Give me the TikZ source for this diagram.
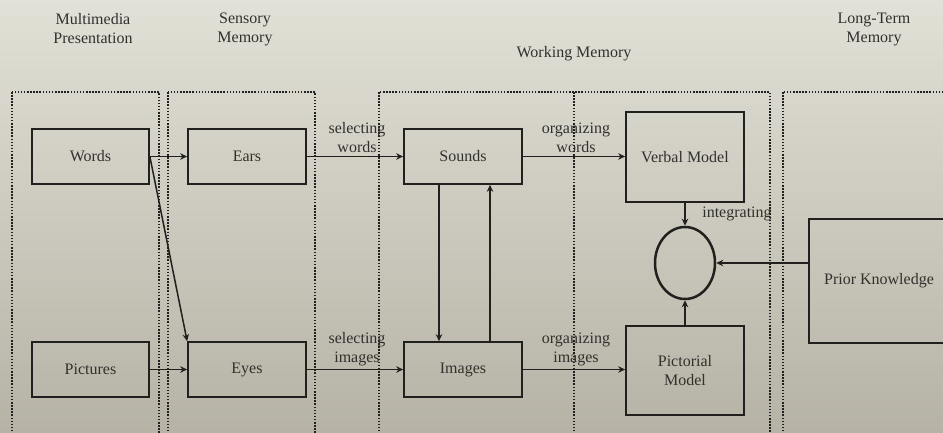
\documentclass[tikz,border=0pt]{standalone}
\usepackage{fontspec}
\setmainfont{Liberation Serif}
\usetikzlibrary{arrows.meta,shapes.geometric}
\definecolor{bgtop}{RGB}{226,225,215}
\definecolor{bgbot}{RGB}{182,178,166}
\definecolor{ink}{RGB}{34,32,30}
\definecolor{txt}{RGB}{50,48,45}
\tikzset{
  lbl/.style={font=\fontsize{16}{19}\selectfont, text=txt, align=center, inner sep=0pt},
  boxnode/.style={draw=ink, line width=1.7pt, rectangle, inner sep=0pt, font=\fontsize{16}{19}\selectfont, text=txt, align=center},
  panel/.style={draw=ink, line width=1.5pt, dash pattern=on 1.5pt off 1.6pt},
  conn/.style={draw=ink, line width=1.5pt, -{Stealth[length=7pt,width=6.5pt]}},
}
\begin{document}
\begin{tikzpicture}[x=1pt,y=-1pt]
\useasboundingbox (0,0) rectangle (943,432);
\clip (0,0) rectangle (943,432);
\shade[top color=bgtop, bottom color=bgbot] (0,0) rectangle (943,432);
% panels
\draw[panel] (12,92) rectangle (159,440);
\draw[panel] (168,92) rectangle (315,440);
\draw[panel] (379,92) rectangle (770,440);
\draw[panel] (574,92) -- (574,440);
\draw[panel] (783,92) rectangle (960,440);
% headers
\node[lbl] (hmm) at (93,29) {Multimedia\\Presentation};
\node[lbl] (hsm) at (245,29) {Sensory\\Memory};
\node[lbl] (hwm) at (574,54) {Working Memory};
\node[lbl] (hlt) at (874,29) {Long-Term\\Memory};
% boxes
\node[boxnode, minimum width=117pt, minimum height=55pt] (words) at (90.5,156.5) {Words};
\node[boxnode, minimum width=118pt, minimum height=55pt] (ears) at (247,156.5) {Ears};
\node[boxnode, minimum width=118pt, minimum height=55pt] (sounds) at (463,156.5) {Sounds};
\node[boxnode, minimum width=117pt, minimum height=55pt] (pictures) at (90.5,369.5) {Pictures};
\node[boxnode, minimum width=118pt, minimum height=55pt] (eyes) at (247,369.5) {Eyes};
\node[boxnode, minimum width=118pt, minimum height=55pt] (images) at (463,369.5) {Images};
\node[boxnode, minimum width=118pt, minimum height=90pt] (verbal) at (685,157) {Verbal Model};
\node[boxnode, minimum width=118pt, minimum height=89pt] (pictorial) at (685,370.5) {Pictorial\\Model};
\node[draw=ink, line width=2.5pt, ellipse, minimum width=60pt, minimum height=72pt, inner sep=0pt] (integ) at (685,263) {};
\node[boxnode, minimum width=140pt, minimum height=124pt] (prior) at (879,281) {Prior Knowledge};
% connectors
\draw[conn] (words.east) -- (ears.west);
\draw[conn] (words.east) -- (eyes.north west);
\draw[conn] (pictures.east) -- (eyes.west);
\draw[conn] (ears.east) -- (sounds.west);
\draw[conn] (eyes.east) -- (images.west);
\draw[conn] (sounds.east) -- (verbal.west |- sounds.east);
\draw[conn] (images.east) -- (pictorial.west |- images.east);
\draw[conn] ([xshift=-24pt]sounds.south) -- ([xshift=-24pt]images.north);
\draw[conn] ([xshift=27pt]images.north) -- ([xshift=27pt]sounds.south);
\draw[conn] (verbal.south) -- (integ.north);
\draw[conn] (pictorial.north) -- (integ.south);
\draw[conn] (integ.east -| prior.west) -- (integ.east);
% labels
\node[lbl] (lsw) at (357,137.5) {selecting\\words};
\node[lbl] (lsi) at (357,349) {selecting\\images};
\node[lbl] (low) at (576,137.5) {organizing\\words};
\node[lbl] (loi) at (576,349) {organizing\\images};
\node[lbl] (lint) at (737,214) {integrating};
\end{tikzpicture}
\end{document}
